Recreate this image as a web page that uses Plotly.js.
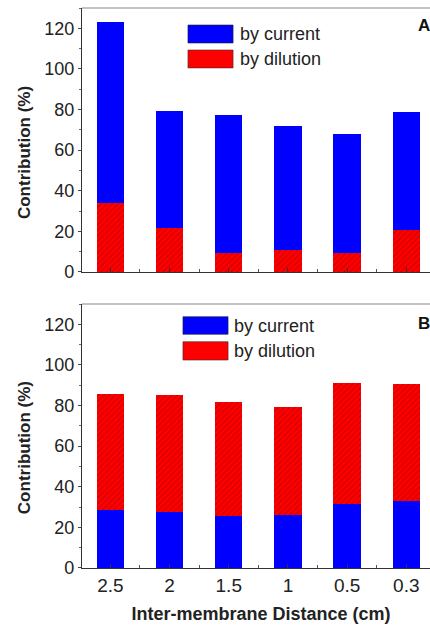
<!DOCTYPE html>
<html><head><meta charset="utf-8">
<script src="https://cdn.plot.ly/plotly-3.0.1.min.js"></script>
<style>html,body{margin:0;padding:0;overflow:hidden;background:#fff;width:430px;height:626px}</style>
</head><body><div id="chart"></div>
<script>
const categories = ["2.5", "2", "1.5", "1", "0.5", "0.3"];
const currentA = [89.3, 57.9, 68.0, 61.0, 58.7, 58.0];
const dilutionA = [33.8, 21.5, 9.2, 10.8, 9.2, 20.7];
const currentB = [28.6, 27.4, 25.8, 26.3, 31.4, 33.0];
const dilutionB = [57.1, 58.0, 55.8, 53.2, 59.9, 57.8];
const yTicks = [0, 20, 40, 60, 80, 100, 120];

const idx = categories.map((c, i) => i);
const BLUE = '#0000ff', RED = '#ff0000';
const redPattern = {shape: '/', fgcolor: '#c80000', bgcolor: RED, size: 4, solidity: 0.25};
const font = 'Arial, "Liberation Sans", sans-serif';

const traces = [
  {type: 'bar', x: idx, y: dilutionA, xaxis: 'x', yaxis: 'y', width: 0.46,
   marker: {color: RED, pattern: redPattern, line: {width: 0}}, showlegend: false},
  {type: 'bar', x: idx, y: currentA, xaxis: 'x', yaxis: 'y', width: 0.46,
   marker: {color: BLUE, line: {width: 0}}, showlegend: false},
  {type: 'bar', x: idx, y: currentB, xaxis: 'x2', yaxis: 'y2', width: 0.46,
   marker: {color: BLUE, line: {width: 0}}, showlegend: false},
  {type: 'bar', x: idx, y: dilutionB, xaxis: 'x2', yaxis: 'y2', width: 0.46,
   marker: {color: RED, pattern: redPattern, line: {width: 0}}, showlegend: false}
];

const xBase = {
  range: [-0.48, 5.57], tickvals: idx, ticktext: categories,
  ticks: 'inside', ticklen: 4, tickcolor: '#333', showline: true, linecolor: '#333', linewidth: 1.2,
  showgrid: false, zeroline: false, fixedrange: true,
  minor: {tick0: 0.5, dtick: 1, ticks: 'inside', ticklen: 3, tickcolor: '#555'},
  tickfont: {family: font, size: 19, color: '#222'}
};
const yBase = {
  range: [0, 130], tickvals: yTicks, ticks: 'outside', ticklen: 3, tickcolor: '#444',
  showline: true, linecolor: '#333', linewidth: 1.2, showgrid: false, zeroline: false,
  minor: {dtick: 10, ticks: 'outside', ticklen: 2, tickcolor: '#666'},
  tickfont: {family: font, size: 18, color: '#222'}
};
const titleFont = {family: font, size: 17, color: '#222'};

const layout = {
  width: 440, height: 626,
  margin: {l: 82, r: 0, t: 8, b: 58},
  paper_bgcolor: '#fff', plot_bgcolor: '#fff',
  barmode: 'stack', bargap: 0,
  xaxis: Object.assign({}, xBase, {anchor: 'y', showticklabels: false}),
  yaxis: Object.assign({}, yBase, {domain: [0.5286, 1], anchor: 'x'}),
  xaxis2: Object.assign({}, xBase, {anchor: 'y2',
    title: {text: 'Inter-membrane Distance (cm)', font: {family: font, size: 18, color: '#222', weight: 'bold'}, standoff: 12}}),
  yaxis2: Object.assign({}, yBase, {domain: [0, 0.4714], anchor: 'x2'}),
  shapes: [
    {type: 'line', xref: 'paper', yref: 'paper', x0: 0, x1: 1, y0: 1, y1: 1, line: {color: '#888', width: 1.2}},
    {type: 'line', xref: 'paper', yref: 'paper', x0: 0, x1: 1, y0: 0.4714, y1: 0.4714, line: {color: '#888', width: 1.2}},
    {type: 'rect', xref: 'paper', yref: 'paper', x0: 0.296, x1: 0.422, y0: 0.9375, y1: 0.9696, fillcolor: BLUE, line: {color: '#222', width: 0.6}},
    {type: 'rect', xref: 'paper', yref: 'paper', x0: 0.296, x1: 0.422, y0: 0.893, y1: 0.925, fillcolor: RED, line: {color: '#333', width: 0.6}},
    {type: 'rect', xref: 'paper', yref: 'paper', x0: 0.282, x1: 0.408, y0: 0.4173, y1: 0.4488, fillcolor: BLUE, line: {color: '#222', width: 0.6}},
    {type: 'rect', xref: 'paper', yref: 'paper', x0: 0.282, x1: 0.408, y0: 0.3714, y1: 0.4041, fillcolor: RED, line: {color: '#333', width: 0.6}}
  ],
  annotations: [
    {xref: 'paper', yref: 'paper', x: -0.162, y: 0.741, text: '<b>Contribution (%)</b>', textangle: -90, showarrow: false, xanchor: 'center', yanchor: 'middle', font: titleFont},
    {xref: 'paper', yref: 'paper', x: -0.162, y: 0.214, text: '<b>Contribution (%)</b>', textangle: -90, showarrow: false, xanchor: 'center', yanchor: 'middle', font: titleFont},
    {xref: 'paper', yref: 'paper', x: 0.436, y: 0.9536, text: 'by current', showarrow: false, xanchor: 'left', yanchor: 'middle', font: {family: font, size: 18, color: '#222'}},
    {xref: 'paper', yref: 'paper', x: 0.436, y: 0.9089, text: 'by dilution', showarrow: false, xanchor: 'left', yanchor: 'middle', font: {family: font, size: 18, color: '#222'}},
    {xref: 'paper', yref: 'paper', x: 0.4190, y: 0.433, text: 'by current', showarrow: false, xanchor: 'left', yanchor: 'middle', font: {family: font, size: 18, color: '#222'}},
    {xref: 'paper', yref: 'paper', x: 0.4190, y: 0.3879, text: 'by dilution', showarrow: false, xanchor: 'left', yanchor: 'middle', font: {family: font, size: 18, color: '#222'}},
    {xref: 'paper', yref: 'paper', x: 0.9330, y: 0.968, text: '<b>A</b>', showarrow: false, xanchor: 'left', yanchor: 'middle', font: {family: font, size: 17, color: '#111'}},
    {xref: 'paper', yref: 'paper', x: 0.9330, y: 0.4375, text: '<b>B</b>', showarrow: false, xanchor: 'left', yanchor: 'middle', font: {family: font, size: 17, color: '#111'}}
  ]
};

Plotly.newPlot('chart', traces, layout, {displayModeBar: false, staticPlot: true});
</script></body></html>
